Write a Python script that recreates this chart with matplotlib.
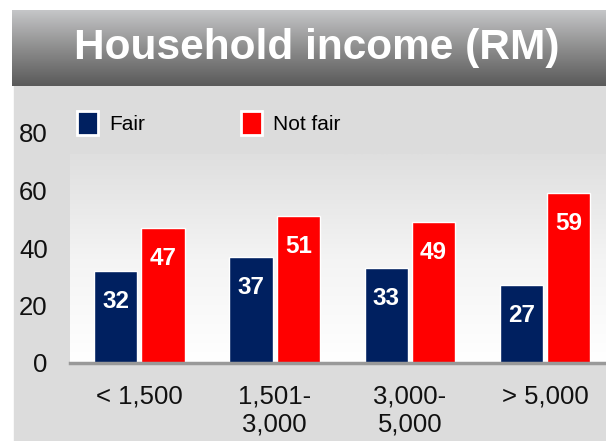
import numpy as np
import matplotlib
matplotlib.use("Agg")
import matplotlib.pyplot as plt
from matplotlib.patches import Rectangle
from matplotlib.colors import LinearSegmentedColormap

plt.rcParams['font.family'] = ['Liberation Sans', 'DejaVu Sans']

# Survey results by household income band (percent)
categories = ["< 1,500", "1,501-\n3,000", "3,000-\n5,000", "> 5,000"]
fair = [32, 37, 33, 27]
not_fair = [47, 51, 49, 59]
series_names = ["Fair", "Not fair"]
y_ticks = [0, 20, 40, 60, 80]
title = "Household income (RM)"

navy = "#002060"
red = "#ff0000"
W, H = 606, 441

fig = plt.figure(figsize=(W / 100, H / 100), dpi=100)
fig.patch.set_facecolor("white")

# gray panel behind everything
fig.patches.append(Rectangle((14 / W, 0), 1 - 14 / W, 1 - 85 / H,
                             transform=fig.transFigure, color="#dcdcdc", zorder=-5))

# title banner with vertical gradient
bax = fig.add_axes([12 / W, 1 - 86 / H, 1 - 12 / W, 76 / H])
banner = LinearSegmentedColormap.from_list("banner", ["#5a5a5a", "#8e8e8e", "#c6c7c9"])
bax.imshow(np.linspace(0, 1, 100).reshape(-1, 1)[::-1], aspect="auto", cmap=banner,
           extent=[0, 1, 0, 1])
bax.set_axis_off()
bax.text(0.513, 0.5, title, transform=bax.transAxes, ha="center", va="center",
         color="white", fontsize=30.5, fontweight="bold")

# main chart
ax = fig.add_axes([70 / W, 1 - 363 / H, 1 - 70 / W, 230 / H])
ax.set_facecolor("none")
x = np.arange(len(categories))
xlim = (-0.513, 3.45)

# soft white plot area
plot_bg = LinearSegmentedColormap.from_list("plotbg", ["#ffffff", "#f4f4f4", "#dfdfdf"])
ax.imshow(np.linspace(0, 1, 100).reshape(-1, 1)[::-1], aspect="auto", cmap=plot_bg,
          extent=[xlim[0], xlim[1], 0, 72.5], zorder=0)

bw = 0.32
off = 0.175
b1 = ax.bar(x - off, fair, bw, color=navy, edgecolor="white", linewidth=1,
            zorder=2, label=series_names[0])
b2 = ax.bar(x + off, not_fair, bw, color=red, edgecolor="white", linewidth=1,
            zorder=2, label=series_names[1])

for xi, v in zip(x - off, fair):
    ax.text(xi, v - 10.6, str(v), ha="center", va="center", color="white",
            fontsize=17.5, fontweight="bold", zorder=3)
for xi, v in zip(x + off, not_fair):
    ax.text(xi, v - 10.6, str(v), ha="center", va="center", color="white",
            fontsize=17.5, fontweight="bold", zorder=3)

ax.axhline(0, color="#999999", linewidth=2.5, zorder=4, clip_on=False)
ax.set_xlim(*xlim)
ax.set_ylim(0, 80)

for s in ax.spines.values():
    s.set_visible(False)
ax.set_xticks(x)
ax.set_xticklabels(categories, linespacing=1.2)
ax.set_yticks(y_ticks)
ax.tick_params(axis="both", length=0, labelsize=18.5, colors="#111111")
ax.tick_params(axis="y", pad=16)
ax.tick_params(axis="x", pad=15.5)

leg = fig.legend(handles=[b1, b2], loc="center left",
                 bbox_to_anchor=(77 / W, 1 - 123 / H), ncol=2, frameon=False,
                 fontsize=15, handlelength=1.0, handleheight=1.4,
                 handletextpad=0.55, columnspacing=4.6,
                 borderpad=0, borderaxespad=0)
for h in leg.legend_handles:
    h.set_edgecolor("white")
    h.set_linewidth(2)

fig.savefig("out.png", dpi=100)
